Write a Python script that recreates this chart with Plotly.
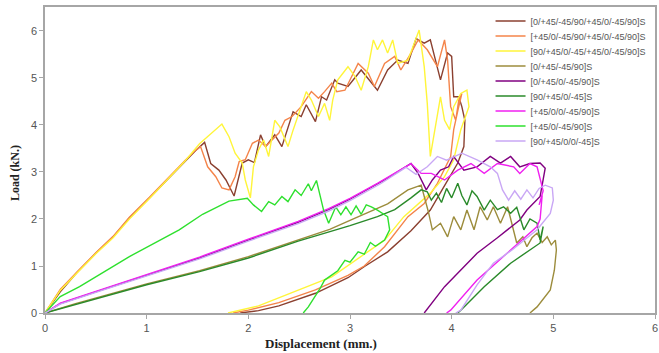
import plotly.graph_objects as go

# ---------------- data ----------------
names = [
    "[0/+45/-45/90/+45/0/-45/90]S",
    "[+45/0/-45/90/+45/0/-45/90]S",
    "[90/+45/0/-45/+45/0/-45/90]S",
    "[0/+45/-45/90]S",
    "[0/+45/0/-45/90]S",
    "[90/+45/0/-45]S",
    "[+45/0/0/-45/90]S",
    "[+45/0/-45/90]S",
    "[90/+45/0/0/-45]S",
]

brown_x = [0, 0.15, 0.31, 0.5, 0.67, 0.83, 1.03, 1.22, 1.38, 1.48, 1.57, 1.63, 1.71, 1.78, 1.86, 1.94, 2.0, 2.06, 2.12, 2.17, 2.26, 2.33, 2.44, 2.52, 2.57, 2.66, 2.72, 2.77, 2.85, 2.88, 2.98, 3.11, 3.27, 3.37, 3.47, 3.57, 3.65, 3.73, 3.79, 3.89, 3.96, 4.0, 4.02, 4.07, 4.1, 4.13, 4.12, 4.06, 3.9, 3.79, 3.6, 3.37, 3.15, 2.98, 2.66, 2.3, 2.1, 1.92]
brown_y = [0, 0.45, 0.85, 1.27, 1.62, 2.02, 2.45, 2.88, 3.24, 3.45, 3.63, 3.18, 3.04, 2.83, 2.49, 3.19, 3.26, 3.2, 3.79, 3.54, 3.79, 3.54, 4.28, 4.18, 4.43, 4.07, 4.6, 4.53, 4.96, 4.89, 4.82, 5.17, 4.74, 5.17, 5.38, 5.31, 5.84, 5.74, 5.81, 4.96, 5.53, 5.46, 4.6, 4.6, 4.39, 4.1, 3.54, 3.19, 2.6, 2.19, 1.75, 1.3, 1.0, 0.75, 0.42, 0.15, 0.05, 0]

orange_x = [0, 0.15, 0.31, 0.5, 0.67, 0.83, 1.03, 1.22, 1.38, 1.48, 1.53, 1.6, 1.68, 1.74, 1.81, 1.87, 1.91, 1.97, 2.04, 2.1, 2.17, 2.3, 2.36, 2.43, 2.52, 2.62, 2.69, 2.75, 2.82, 2.87, 2.95, 3.08, 3.18, 3.24, 3.34, 3.44, 3.5, 3.6, 3.67, 3.76, 3.86, 3.93, 3.96, 3.99, 4.04, 4.07, 4.1, 4.06, 4.02, 3.99, 3.86, 3.73, 3.57, 3.34, 3.14, 2.98, 2.66, 2.3, 2.0, 1.85]
orange_y = [0, 0.5, 0.86, 1.28, 1.63, 2.04, 2.47, 2.9, 3.25, 3.46, 3.54, 3.11, 2.9, 2.66, 2.62, 2.9, 3.22, 3.26, 3.61, 3.68, 3.54, 3.83, 4.1, 4.18, 4.39, 4.71, 4.57, 4.71, 4.89, 4.71, 4.74, 5.31, 5.1, 4.82, 5.31, 5.46, 5.17, 5.53, 5.81, 5.6, 5.24, 5.81, 5.38, 4.39, 4.1, 4.53, 4.67, 4.3, 3.9, 3.33, 2.76, 2.33, 2.05, 1.41, 1.0, 0.8, 0.49, 0.22, 0.06, 0]

yellow_x = [0, 0.15, 0.31, 0.5, 0.67, 0.83, 1.03, 1.22, 1.38, 1.52, 1.63, 1.74, 1.81, 1.87, 1.94, 1.97, 2.02, 2.05, 2.1, 2.15, 2.2, 2.26, 2.31, 2.39, 2.44, 2.51, 2.57, 2.62, 2.69, 2.75, 2.8, 2.83, 2.88, 2.98, 3.05, 3.11, 3.18, 3.23, 3.27, 3.32, 3.37, 3.42, 3.47, 3.57, 3.62, 3.68, 3.73, 3.76, 3.79, 3.84, 3.89, 3.93, 3.98, 4.02, 4.09, 4.15, 4.17, 4.09, 4.02, 3.93, 3.79, 3.53, 3.34, 2.82, 2.49, 2.1, 1.8]
yellow_y = [0, 0.48, 0.84, 1.26, 1.6, 2.0, 2.44, 2.88, 3.24, 3.6, 3.8, 4.02, 3.75, 3.4, 3.19, 2.83, 2.45, 3.11, 3.47, 3.68, 3.33, 4.1, 3.96, 3.54, 3.89, 4.32, 4.71, 4.53, 4.18, 4.46, 4.1, 4.53, 4.96, 5.24, 5.03, 4.74, 5.24, 5.81, 5.6, 5.81, 5.53, 5.81, 5.31, 5.38, 5.67, 6.02, 5.24, 4.46, 3.33, 3.95, 4.6, 4.1, 3.9, 4.39, 4.67, 4.74, 4.39, 3.9, 3.26, 2.9, 2.55, 2.05, 1.55, 0.77, 0.49, 0.15, 0]

olive_x = [0, 0.3, 1.0, 1.52, 2.0, 2.5, 2.8, 3.05, 3.37, 3.57, 3.7, 3.77, 3.81, 3.89, 3.96, 4.02, 4.09, 4.15, 4.22, 4.28, 4.35, 4.41, 4.48, 4.55, 4.61, 4.64, 4.7, 4.74, 4.79, 4.84, 4.89, 4.94, 4.98, 5.02, 5.03, 5.01, 4.97, 4.9, 4.84, 4.77]
olive_y = [0, 0.2, 0.62, 0.9, 1.2, 1.56, 1.78, 2.02, 2.32, 2.62, 2.72, 2.16, 1.77, 1.91, 1.62, 2.05, 1.77, 2.19, 1.77, 2.26, 1.98, 2.26, 1.91, 2.26, 1.77, 1.49, 1.62, 1.41, 1.6, 1.7, 1.5, 1.62, 1.45, 1.55, 1.34, 0.91, 0.49, 0.3, 0.13, 0]

purple_x = [0, 0.15, 0.5, 1.0, 1.52, 2.0, 2.49, 2.79, 3.0, 3.37, 3.6, 3.67, 3.75, 3.81, 3.89, 3.97, 4.02, 4.12, 4.25, 4.38, 4.48, 4.58, 4.67, 4.77, 4.87, 4.92, 4.9, 4.87, 4.74, 4.67, 4.45, 4.25, 3.93, 3.73]
purple_y = [0, 0.2, 0.45, 0.8, 1.17, 1.55, 1.93, 2.2, 2.42, 2.87, 3.18, 2.97, 2.62, 2.83, 3.04, 3.11, 3.33, 3.04, 3.11, 3.33, 3.19, 3.33, 3.11, 3.18, 3.19, 3.08, 2.8, 2.48, 2.19, 1.98, 1.6, 1.27, 0.56, 0]

dkgreen_x = [0, 0.3, 1.0, 1.52, 2.0, 2.49, 2.79, 3.0, 3.27, 3.44, 3.6, 3.7, 3.76, 3.8, 3.85, 3.9, 3.95, 4.0, 4.06, 4.1, 4.15, 4.2, 4.25, 4.32, 4.38, 4.45, 4.51, 4.58, 4.64, 4.71, 4.77, 4.84, 4.87, 4.9, 4.87, 4.58, 4.32, 4.09, 4.06]
dkgreen_y = [0, 0.18, 0.6, 0.88, 1.17, 1.53, 1.72, 1.86, 2.05, 2.2, 2.45, 2.62, 2.58, 2.4, 2.55, 2.35, 2.65, 2.45, 2.76, 2.5, 2.3, 2.6, 2.48, 2.19, 2.4, 2.2, 2.26, 2.12, 2.25, 1.77, 2.0, 1.91, 1.55, 1.84, 1.49, 1.06, 0.56, 0.06, 0]

magenta_x = [0, 0.15, 0.5, 1.0, 1.52, 2.0, 2.49, 2.79, 3.0, 3.27, 3.6, 3.7, 3.8, 3.93, 4.06, 4.19, 4.32, 4.45, 4.61, 4.67, 4.77, 4.84, 4.87, 4.9, 4.86, 4.89, 4.87, 4.84, 4.58, 4.25, 3.99, 3.95]
magenta_y = [0, 0.21, 0.46, 0.82, 1.19, 1.57, 1.95, 2.22, 2.44, 2.76, 3.18, 2.97, 2.97, 2.83, 3.04, 3.18, 2.97, 3.18, 3.11, 2.97, 3.18, 3.11, 2.83, 2.6, 2.3, 2.5, 2.0, 1.84, 1.34, 0.7, 0.06, 0]

green_x = [0, 0.15, 0.34, 0.83, 1.32, 1.55, 1.81, 1.91, 1.99, 2.05, 2.13, 2.2, 2.26, 2.33, 2.39, 2.46, 2.52, 2.59, 2.62, 2.67, 2.7, 2.74, 2.79, 2.82, 2.86, 2.91, 2.96, 3.01, 3.06, 3.11, 3.16, 3.21, 3.27, 3.34, 3.37, 3.39, 3.34, 3.25, 3.2, 3.14, 3.08, 3.0, 2.95, 2.88, 2.82, 2.75, 2.7, 2.59, 2.54]
green_y = [0, 0.35, 0.56, 1.2, 1.77, 2.1, 2.38, 2.42, 2.44, 2.3, 2.16, 2.37, 2.3, 2.48, 2.37, 2.62, 2.5, 2.75, 2.6, 2.82, 2.55, 2.19, 1.91, 2.05, 2.26, 2.09, 2.26, 2.09, 2.28, 2.1, 2.3, 2.26, 2.19, 2.09, 2.05, 1.77, 1.55, 1.42, 1.5, 1.25, 1.3, 1.08, 1.12, 0.9, 0.8, 0.7, 0.5, 0.13, 0]

lavender_x = [0, 0.15, 0.5, 1.0, 1.52, 2.0, 2.49, 2.79, 3.0, 3.3, 3.55, 3.65, 3.76, 3.86, 3.95, 4.1, 4.25, 4.38, 4.45, 4.5, 4.56, 4.62, 4.68, 4.74, 4.8, 4.86, 4.92, 4.99, 5.0, 4.97, 4.84, 4.6, 4.41, 4.25, 4.09, 4.04]
lavender_y = [0, 0.19, 0.44, 0.79, 1.15, 1.53, 1.9, 2.17, 2.39, 2.75, 3.1, 2.95, 3.11, 3.33, 3.25, 3.4, 3.26, 3.11, 2.97, 2.62, 2.4, 2.6, 2.42, 2.62, 2.45, 2.65, 2.72, 2.66, 2.4, 2.12, 1.77, 1.35, 1.06, 0.6, 0.06, 0]

xs = [brown_x, orange_x, yellow_x, olive_x, purple_x, dkgreen_x, magenta_x, green_x, lavender_x]
ys = [brown_y, orange_y, yellow_y, olive_y, purple_y, dkgreen_y, magenta_y, green_y, lavender_y]
colors = ["#8B4030", "#F4844A", "#FFF53A", "#9C8C3C", "#800080",
          "#2A8A2A", "#F020F0", "#2EE02E", "#C9A7F5"]

x_ticks = [0, 1, 2, 3, 4, 5, 6]
y_ticks = [0, 1, 2, 3, 4, 5, 6]

# ---------------- figure ----------------
W, H = 659, 353
ml, mr, mt, mb = 45, 2, 7, 40
pw, ph = W - ml - mr, H - mt - mb

fig = go.Figure()
legend_keys = ["legend" if i == 0 else f"legend{i+1}" for i in range(len(names))]
for i in range(len(names)):
    fig.add_trace(go.Scatter(x=xs[i], y=ys[i], mode="lines", name=names[i],
                             line=dict(color=colors[i], width=1.4),
                             legend=legend_keys[i], showlegend=True))

layout_legends = {}
for i, key in enumerate(legend_keys):
    py = 21 + 15 * i
    layout_legends[key] = dict(
        x=(492 - ml) / pw, xanchor="left",
        y=(H - mb - py) / ph, yanchor="middle",
        bgcolor="rgba(0,0,0,0)", borderwidth=0,
        font=dict(family="Arial, Liberation Sans, sans-serif", size=9, color="#555555"),
        itemwidth=30, tracegroupgap=0, visible=True,
    )

axis_common = dict(showline=True, linecolor="#A6A6A6", linewidth=1.5, mirror=True,
                   ticks="outside", ticklen=4, tickcolor="#A6A6A6",
                   showgrid=False, zeroline=False,
                   tickfont=dict(family="Arial, Liberation Sans, sans-serif", size=11, color="#555555"))

fig.update_layout(
    width=W, height=H, showlegend=True,
    margin=dict(l=ml, r=mr, t=mt, b=mb),
    paper_bgcolor="white", plot_bgcolor="white",
    xaxis=dict(range=[0, 6], tickvals=x_ticks, **axis_common),
    yaxis=dict(range=[0, 6.51], tickvals=y_ticks, **axis_common),
    **layout_legends,
)

fig.add_annotation(text="<b>Displacement (mm.)</b>", xref="paper", yref="paper",
                   x=(322 - ml) / pw, y=-(343 - (H - mb)) / ph, showarrow=False,
                   xanchor="center", yanchor="middle",
                   font=dict(family="Liberation Serif, Times New Roman, serif", size=13, color="#222222"))
fig.add_annotation(text="<b>Load (kN.)</b>", xref="paper", yref="paper",
                   x=-(ml - 15) / pw, y=(H - mb - 173) / ph, showarrow=False, textangle=-90,
                   xanchor="center", yanchor="middle",
                   font=dict(family="Liberation Serif, Times New Roman, serif", size=12, color="#222222"))

fig.write_html("out.html")
